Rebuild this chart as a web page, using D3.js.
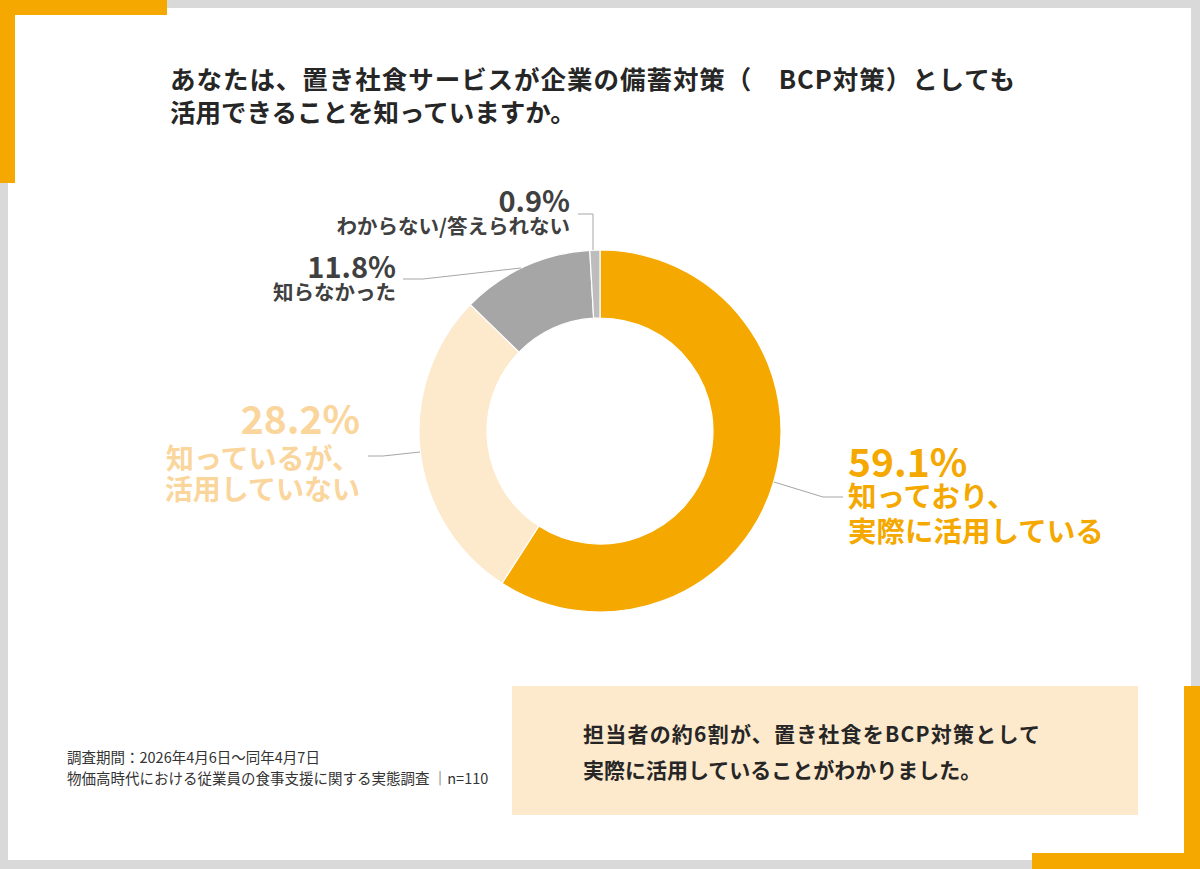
<!DOCTYPE html>
<html>
<head>
<meta charset="utf-8">
<script src="https://cdn.jsdelivr.net/npm/d3@7/dist/d3.min.js"></script>
<style>
html,body{margin:0;padding:0;background:#fff;}
svg{display:block;}
text{font-family:"Noto Sans CJK JP","Noto Sans",sans-serif;}
</style>
</head>
<body>
<svg id="chart" width="1200" height="869"></svg>
<script>
const categories = ["知っており、実際に活用している", "知っているが、活用していない", "知らなかった", "わからない/答えられない"];
const values = [59.1, 28.2, 11.8, 0.9];
const valueLabels = ["59.1%", "28.2%", "11.8%", "0.9%"];
const labelLines = [["知っており、", "実際に活用している"], ["知っているが、", "活用していない"], ["知らなかった"], ["わからない/答えられない"]];
const sliceColors = ["#F5A800", "#FDE9CC", "#A6A6A6", "#BDBDBD"];
const labelColors = ["#F5A800", "#FAD59C", "#404040", "#404040"];
const titleLines = ["あなたは、置き社食サービスが企業の備蓄対策（　BCP対策）としても", "活用できることを知っていますか。"];
const calloutLines = ["担当者の約6割が、置き社食をBCP対策として", "実際に活用していることがわかりました。"];
const footerLines = ["調査期間：2026年4月6日～同年4月7日", "物価高時代における従業員の食事支援に関する実態調査 │n=110"];

const svg = d3.select("#chart");
const W = 1200, H = 869;

// frame
svg.append("rect").attr("width", W).attr("height", H).attr("fill", "#D9D9D9");
svg.append("rect").attr("x", 8).attr("y", 8).attr("width", 1183).attr("height", 852).attr("fill", "#FFFFFF");
// orange corners
svg.append("rect").attr("x", 0).attr("y", 0).attr("width", 167).attr("height", 15).attr("fill", "#F5A800");
svg.append("rect").attr("x", 0).attr("y", 0).attr("width", 15).attr("height", 183).attr("fill", "#F5A800");
svg.append("rect").attr("x", 1032).attr("y", 853).attr("width", 168).attr("height", 16).attr("fill", "#F5A800");
svg.append("rect").attr("x", 1184).attr("y", 686).attr("width", 16).attr("height", 183).attr("fill", "#F5A800");

// title
const titleLens = [845, null];
svg.append("g").selectAll("text").data(titleLines).join("text")
  .attr("x", 170).attr("y", (d, i) => 89 + i * 33)
  .attr("font-size", 25.5).attr("font-weight", 700).attr("fill", "#262626")
  .each(function(d, i) {
    if (titleLens[i]) d3.select(this).attr("textLength", titleLens[i]).attr("lengthAdjust", "spacing");
  })
  .text(d => d);

// donut
const cx = 600, cy = 431, R = 181, r = 113;
const pie = d3.pie().sort(null).value(d => d);
const arc = d3.arc().innerRadius(r).outerRadius(R);
const g = svg.append("g").attr("transform", `translate(${cx},${cy})`);
g.selectAll("path").data(pie(values)).join("path")
  .attr("d", arc)
  .attr("fill", (d, i) => sliceColors[i])
  .attr("stroke", "#fff").attr("stroke-width", 1.2);

// leader lines
const leaders = [
  [[774, 482], [823, 497], [843, 497]],
  [[420, 452], [383, 456], [368, 456]],
  [[521, 268], [423, 279], [403, 279]],
  [[593, 250], [593, 214], [578, 214]]
];
const line = d3.line();
svg.append("g").selectAll("path").data(leaders).join("path")
  .attr("d", d => line(d)).attr("fill", "none")
  .attr("stroke", "#A6A6A6").attr("stroke-width", 1);

// labels
const labelSpec = [
  {x: 848, anchor: "start", pctY: 477, pctSize: 39, lineY: [507, 542], lineSize: 28.5},
  {x: 360, anchor: "end", pctY: 434, pctSize: 39, lineY: [469, 500], lineSize: 28},
  {x: 396, anchor: "end", pctY: 278, pctSize: 29, lineY: [300], lineSize: 20.5},
  {x: 570, anchor: "end", pctY: 212, pctSize: 29, lineY: [234], lineSize: 20.5}
];
const lg = svg.append("g");
labelSpec.forEach((s, i) => {
  lg.append("text").attr("x", s.x).attr("y", s.pctY).attr("text-anchor", s.anchor)
    .attr("font-size", s.pctSize).attr("font-weight", 700).attr("fill", labelColors[i])
    .attr("font-family", "'Liberation Sans',Arial,sans-serif")
    .text(valueLabels[i]);
  labelLines[i].forEach((t, j) => {
    lg.append("text").attr("x", s.x).attr("y", s.lineY[j]).attr("text-anchor", s.anchor)
      .attr("font-size", s.lineSize).attr("font-weight", 700).attr("fill", labelColors[i])
      .text(t);
  });
});

// callout
svg.append("rect").attr("x", 512).attr("y", 686).attr("width", 626).attr("height", 129).attr("fill", "#FDE9CC");
const calloutLens = [457, null];
svg.append("g").selectAll("text").data(calloutLines).join("text")
  .attr("x", 583).attr("y", (d, i) => 742 + i * 36)
  .attr("font-size", 21).attr("font-weight", 700).attr("fill", "#262626")
  .each(function(d, i) {
    if (calloutLens[i]) d3.select(this).attr("textLength", calloutLens[i]).attr("lengthAdjust", "spacing");
  })
  .text(d => d);

// footer
svg.append("g").selectAll("text").data(footerLines).join("text")
  .attr("x", 67).attr("y", (d, i) => 763 + i * 21)
  .attr("font-size", 14.5).attr("fill", "#333")
  .text(d => d);
</script>
</body>
</html>
